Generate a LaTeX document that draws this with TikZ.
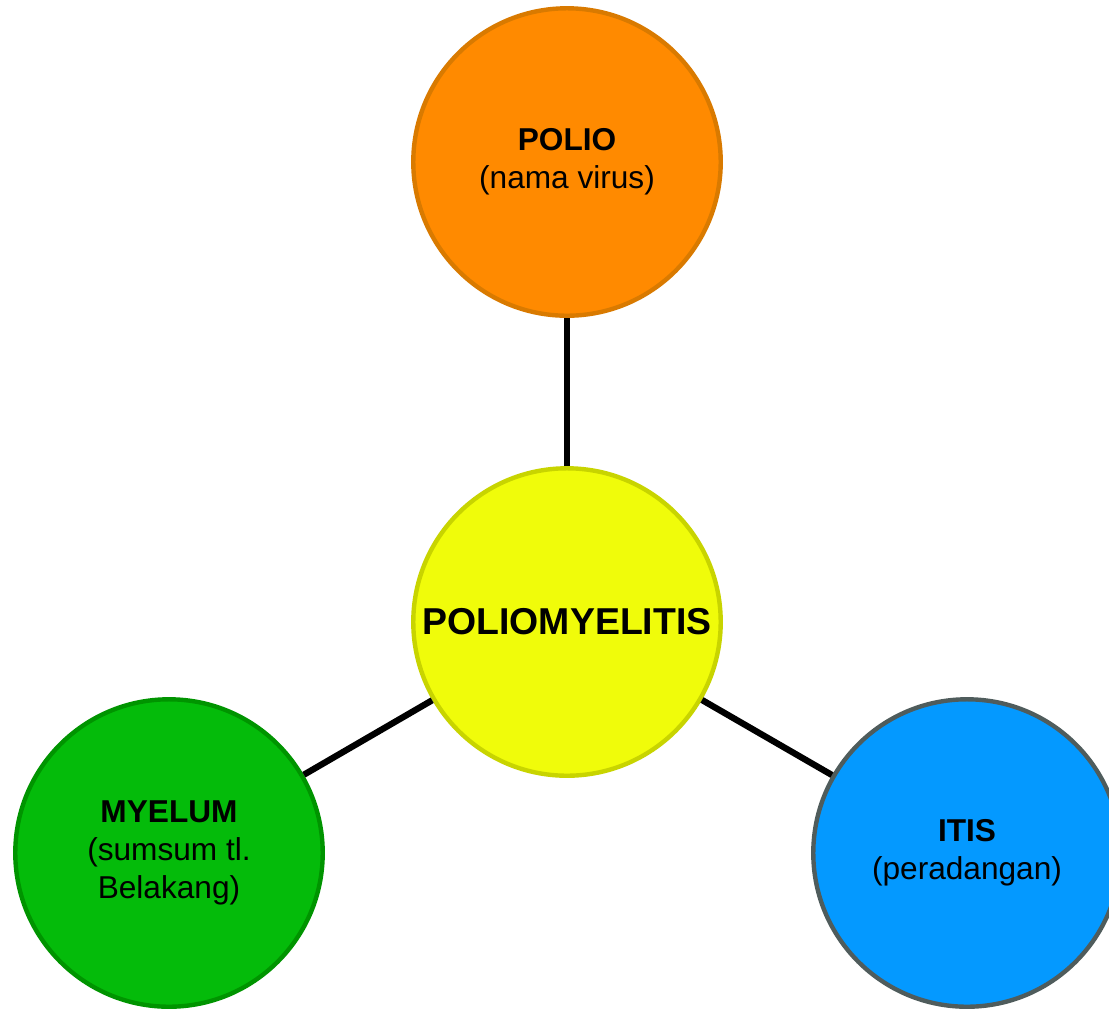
\documentclass[tikz,border=0pt]{standalone}
\usepackage{fontspec}
\setmainfont{Liberation Sans}
\usepackage{tikz}

\definecolor{polioFill}{HTML}{FF8A00}
\definecolor{polioLine}{HTML}{D97A00}
\definecolor{mainFill}{HTML}{F0FC0A}
\definecolor{mainLine}{HTML}{C8D400}
\definecolor{myelumFill}{HTML}{04BB0A}
\definecolor{myelumLine}{HTML}{009400}
\definecolor{itisFill}{HTML}{0499FF}
\definecolor{itisLine}{HTML}{4F5C5C}

\tikzset{
	bubble/.style={shape=circle, draw, line width=2.5pt, minimum size=6.15cm,
		inner sep=0pt, align=center, font=\fontsize{18}{21.6}\selectfont},
	link/.style={line width=3.6pt, black}
}

\begin{document}
\begin{tikzpicture}[x=0.02cm,y=-0.02cm]
	\useasboundingbox (0,0) rectangle (1109,1009);
	
	\node[bubble, fill=polioFill, draw=polioLine] (polio) at (567,162)
		{\textbf{POLIO}\\(nama virus)};
	\node[bubble, fill=mainFill, draw=mainLine, font=\fontsize{21.3}{25}\selectfont] (main) at (567,622)
		{\textbf{POLIOMYELITIS}};
	\node[bubble, fill=myelumFill, draw=myelumLine] (myelum) at (169,853)
		{\textbf{MYELUM}\\(sumsum tl.\\Belakang)};
	\node[bubble, fill=itisFill, draw=itisLine] (itis) at (967,853)
		{\textbf{ITIS}\\(peradangan)};
	
	\path [link]
	(main) edge (polio)
	       edge (myelum)
	       edge (itis);
\end{tikzpicture}
\end{document}
